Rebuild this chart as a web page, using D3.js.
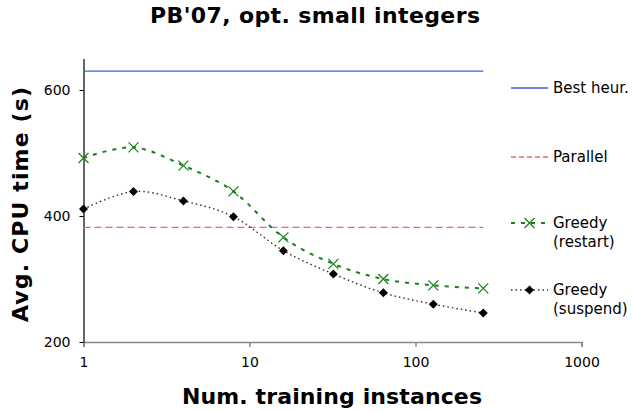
<!DOCTYPE html>
<html><head><meta charset="utf-8">
<script src="https://cdn.jsdelivr.net/npm/d3@7"></script>
<style>body{margin:0;background:#fff}svg{display:block}text{font-family:"DejaVu Sans",Verdana,sans-serif}</style>
</head><body><svg id="c" width="632" height="411"></svg>
<script>
const trainingSizes = [1, 2, 4, 8, 16, 32, 64, 128, 256];
const greedyRestart = [492, 509, 480, 439, 366, 324, 300, 290, 285];
const greedySuspend = [411, 439, 424, 399, 345, 308, 278, 260, 246];
const bestHeur = 630;
const parallel = 382;
const xTicks = [1, 10, 100, 1000];
const yTicks = [200, 400, 600];

const svg = d3.select("#c");
const x = d3.scaleLog().domain([1, 1000]).range([83.5, 581.5]);
const y = d3.scaleLinear().domain([200, 650]).range([342, 58.5]);

svg.append("text").attr("x", 315).attr("y", 23).attr("text-anchor", "middle")
  .attr("font-size", 22).attr("font-weight", "bold")
  .attr("textLength", 330).attr("lengthAdjust", "spacing").text("PB'07, opt. small integers");

// axes
const xAxis = svg.append("g").attr("transform", "translate(0,342)")
  .call(d3.axisBottom(x).tickValues(xTicks).tickFormat(d3.format("d")).tickSize(5).tickPadding(10));
xAxis.select(".domain").attr("stroke", "#888").attr("stroke-width", 1.5);
xAxis.selectAll(".tick line").attr("stroke", "#888").attr("stroke-width", 1.5);
xAxis.selectAll("text").attr("font-size", 14).attr("fill", "#000").style("font-family", "DejaVu Sans");

const yAxis = svg.append("g").attr("transform", "translate(83.5,0)")
  .call(d3.axisLeft(y).tickValues(yTicks).tickSize(4).tickPadding(9).tickSizeOuter(0));
yAxis.select(".domain").attr("stroke", "#000").attr("stroke-width", 1.2);
yAxis.selectAll("text").attr("font-size", 14).attr("fill", "#000").style("font-family", "DejaVu Sans");

svg.append("text").attr("transform", "translate(28,204.5) rotate(-90)").attr("text-anchor", "middle")
  .attr("font-size", 22).attr("font-weight", "bold")
  .attr("textLength", 235).attr("lengthAdjust", "spacing").text("Avg. CPU time (s)");
svg.append("text").attr("x", 332).attr("y", 404).attr("text-anchor", "middle")
  .attr("font-size", 22).attr("font-weight", "bold")
  .attr("textLength", 300).attr("lengthAdjust", "spacing").text("Num. training instances");

// reference lines
const xMin = trainingSizes[0], xMax = trainingSizes[trainingSizes.length - 1];
svg.append("line").attr("x1", x(xMin)).attr("x2", x(xMax)).attr("y1", y(bestHeur)).attr("y2", y(bestHeur))
  .attr("stroke", "#3d5fd6").attr("stroke-width", 1.3);
svg.append("line").attr("x1", x(xMin)).attr("x2", x(xMax)).attr("y1", y(parallel)).attr("y2", y(parallel))
  .attr("stroke", "#e86b6b").attr("stroke-width", 1.3).attr("stroke-dasharray", "7,4");

const line = d3.line().x((d, i) => x(trainingSizes[i])).y(d => y(d)).curve(d3.curveCatmullRom.alpha(0));
svg.append("path").attr("d", line(greedySuspend)).attr("fill", "none")
  .attr("stroke", "#333").attr("stroke-width", 1.4).attr("stroke-dasharray", "1.5,3");
svg.append("path").attr("d", line(greedyRestart)).attr("fill", "none")
  .attr("stroke", "#1a7f1a").attr("stroke-width", 2).attr("stroke-dasharray", "4,6");

function cross(g, cx, cy) {
  const s = 5;
  g.append("path").attr("d", `M${cx-s},${cy-s}L${cx+s},${cy+s}M${cx-s},${cy+s}L${cx+s},${cy-s}`)
    .attr("stroke", "#1a7f1a").attr("stroke-width", 1.2).attr("fill", "none");
}
function diamond(g, cx, cy) {
  const s = 4.5;
  g.append("path").attr("d", `M${cx},${cy-s}L${cx+s},${cy}L${cx},${cy+s}L${cx-s},${cy}Z`).attr("fill", "#000");
}
const mk = svg.append("g");
greedyRestart.forEach((v, i) => cross(mk, x(trainingSizes[i]), y(v)));
greedySuspend.forEach((v, i) => diamond(mk, x(trainingSizes[i]), y(v)));

// legend
const lg = svg.append("g");
const lx1 = 511, lx2 = 548, tx = 553, fs = 15;
lg.append("line").attr("x1", lx1).attr("x2", lx2).attr("y1", 88).attr("y2", 88).attr("stroke", "#3d5fd6").attr("stroke-width", 1.3);
lg.append("text").attr("x", tx).attr("y", 93).attr("font-size", fs).text("Best heur.");
lg.append("line").attr("x1", lx1).attr("x2", lx2).attr("y1", 157).attr("y2", 157).attr("stroke", "#e86b6b").attr("stroke-width", 1.3).attr("stroke-dasharray", "5,3");
lg.append("text").attr("x", tx).attr("y", 162).attr("font-size", fs).text("Parallel");
lg.append("line").attr("x1", lx1).attr("x2", lx2).attr("y1", 223).attr("y2", 223).attr("stroke", "#1a7f1a").attr("stroke-width", 2).attr("stroke-dasharray", "4,6");
cross(lg, 529.5, 223);
lg.append("text").attr("x", tx).attr("y", 228).attr("font-size", fs).text("Greedy");
lg.append("text").attr("x", tx).attr("y", 247).attr("font-size", fs).text("(restart)");
lg.append("line").attr("x1", lx1).attr("x2", lx2).attr("y1", 290).attr("y2", 290).attr("stroke", "#333").attr("stroke-width", 1.4).attr("stroke-dasharray", "1.5,3");
diamond(lg, 529.5, 290);
lg.append("text").attr("x", tx).attr("y", 295).attr("font-size", fs).text("Greedy");
lg.append("text").attr("x", tx).attr("y", 314).attr("font-size", fs).text("(suspend)");
</script></body></html>
